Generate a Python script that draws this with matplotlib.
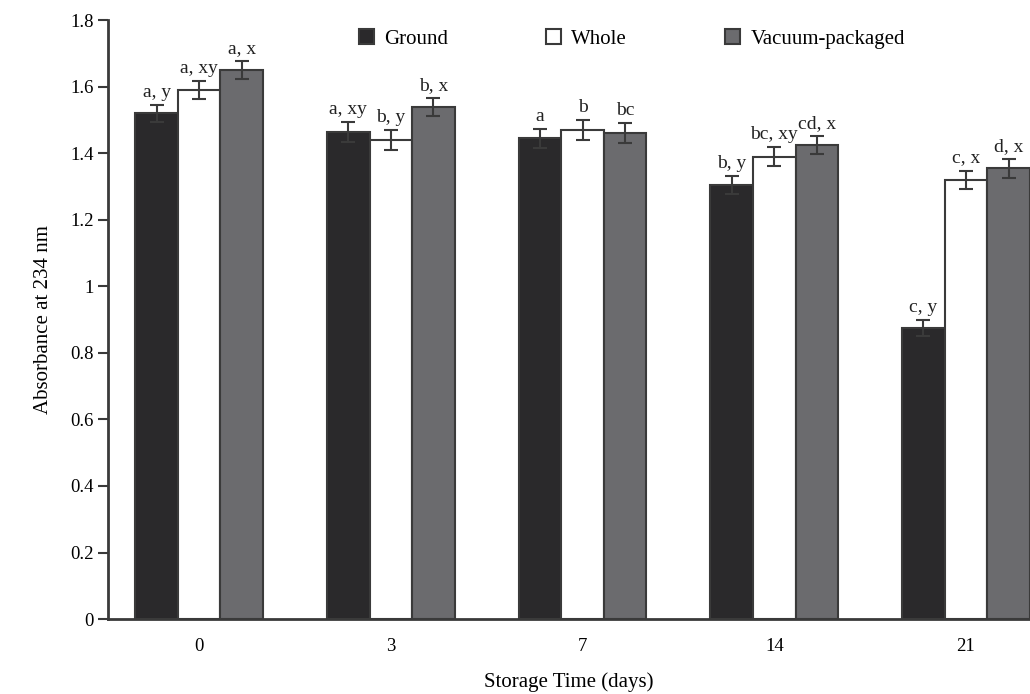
import numpy as np
import matplotlib.pyplot as plt

plt.rcParams['font.family'] = ['Liberation Serif', 'DejaVu Serif']

days = ["0", "3", "7", "14", "21"]
series = ["Ground", "Whole", "Vacuum-packaged"]

ground = [1.52, 1.465, 1.445, 1.305, 0.875]
whole = [1.59, 1.44, 1.47, 1.39, 1.32]
vacuum = [1.65, 1.54, 1.46, 1.425, 1.355]

ground_err = [0.025, 0.03, 0.028, 0.028, 0.025]
whole_err = [0.027, 0.03, 0.03, 0.028, 0.028]
vacuum_err = [0.027, 0.027, 0.03, 0.027, 0.028]

ground_lbl = ["a, y", "a, xy", "a", "b, y", "c, y"]
whole_lbl = ["a, xy", "b, y", "b", "bc, xy", "c, x"]
vacuum_lbl = ["a, x", "b, x", "bc", "cd, x", "d, x"]

colors = ["#2a292b", "#ffffff", "#6b6b6e"]
edge = "#3a3a3a"

fig = plt.figure(figsize=(10.3, 6.94), dpi=100)
ax = fig.add_axes([0.105, 0.108, 0.895, 0.863])

x = np.arange(len(days))
w = 0.222
values = [ground, whole, vacuum]
errs = [ground_err, whole_err, vacuum_err]
lbls = [ground_lbl, whole_lbl, vacuum_lbl]

for i in range(3):
    pos = x + (i - 1) * w
    ax.bar(pos, values[i], w, color=colors[i], edgecolor=edge, linewidth=1.5,
           label=series[i], zorder=2)
    ax.errorbar(pos, values[i], yerr=errs[i], fmt='none', ecolor=edge,
                elinewidth=1.5, capsize=5, capthick=1.5, zorder=3)
    for j in range(len(days)):
        ax.text(pos[j], values[i][j] + errs[i][j] + 0.012, lbls[i][j],
                ha='center', va='bottom', fontsize=14, color='#222222')

ax.set_xlim(-0.475, 4.334)
ax.set_ylim(0, 1.8)
ax.set_yticks(np.arange(0, 1.81, 0.2))
ax.set_yticklabels(["0", "0.2", "0.4", "0.6", "0.8", "1", "1.2", "1.4", "1.6", "1.8"])
ax.set_xticks(x)
ax.set_xticklabels(days)
ax.tick_params(axis='x', length=0, pad=14, labelsize=13.5)
ax.tick_params(axis='y', length=7, width=1.5, labelsize=13.5, color=edge)

for s in ['top', 'right']:
    ax.spines[s].set_visible(False)
for s in ['left', 'bottom']:
    ax.spines[s].set_linewidth(2)
    ax.spines[s].set_color(edge)

ax.set_xlabel("Storage Time (days)", fontsize=15, labelpad=12)
ax.set_ylabel("Absorbance at 234 nm", fontsize=15, labelpad=12)

ax.legend(loc='center', bbox_to_anchor=(0.568, 0.969), ncol=3, frameon=False,
          fontsize=15, handlelength=0.72, handleheight=0.72, columnspacing=4.7,
          handletextpad=0.5)

plt.savefig("out.png", dpi=100)
